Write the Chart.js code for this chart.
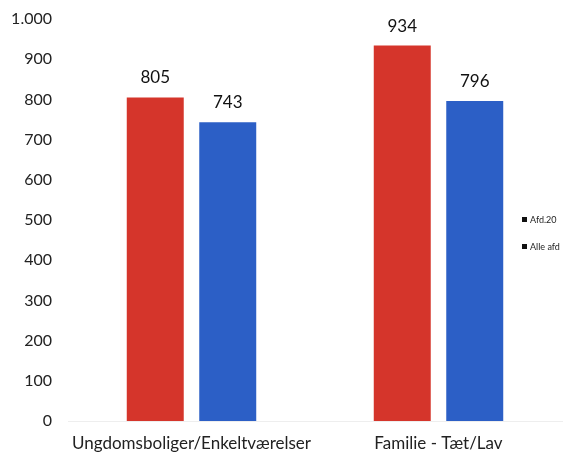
<!DOCTYPE html>
<html>
<head>
<meta charset="utf-8">
<script src="https://cdn.jsdelivr.net/npm/chart.js@4/dist/chart.umd.min.js"></script>
<style>
  html, body { margin: 0; padding: 0; background: #fff; }
  #wrap { width: 566px; height: 452px; }
</style>
</head>
<body>
<div id="wrap"><canvas id="boliger"></canvas></div>
<script>
const categories = ['Ungdomsboliger/Enkeltværelser', 'Familie - Tæt/Lav'];
const afd20 = [805, 934];
const alleAfd = [743, 796];
const seriesNames = ['Afd.20', 'Alle afd'];

const fontFamily = 'Lato, "Open Sans", sans-serif';

// number with danish thousand separator
const fmt = (v) => String(v).replace(/\B(?=(\d{3})+(?!\d))/g, '.');

// value labels above bars
const barLabels = {
  id: 'barLabels',
  afterDatasetsDraw(chart) {
    const ctx = chart.ctx;
    ctx.save();
    ctx.font = '17px ' + fontFamily;
    ctx.fillStyle = '#111';
    ctx.textAlign = 'center';
    ctx.textBaseline = 'bottom';
    chart.data.datasets.forEach((ds, i) => {
      chart.getDatasetMeta(i).data.forEach((bar, j) => {
        ctx.fillText(fmt(ds.data[j]), bar.x, bar.y - 11);
      });
    });
    ctx.restore();
  }
};

// small legend sitting inside the plot on the right
const sideLegend = {
  id: 'sideLegend',
  afterDraw(chart) {
    const ctx = chart.ctx;
    const area = chart.chartArea;
    const mid = (area.top + area.bottom) / 2;
    ctx.save();
    ctx.font = '9px ' + fontFamily;
    ctx.textBaseline = 'middle';
    ctx.textAlign = 'left';
    chart.data.datasets.forEach((ds, i) => {
      const y = mid + i * 27;
      const x = area.right - 40;
      ctx.fillStyle = '#111';
      ctx.fillRect(x, y - 3, 5, 5);
      ctx.fillStyle = '#222';
      ctx.fillText(ds.label, x + 8, y);
    });
    ctx.restore();
  }
};

new Chart(document.getElementById('boliger'), {
  type: 'bar',
  data: {
    labels: categories,
    datasets: [
      { label: seriesNames[0], data: afd20, backgroundColor: '#d5352b' },
      { label: seriesNames[1], data: alleAfd, backgroundColor: '#2c5fc6' }
    ]
  },
  options: {
    responsive: true,
    maintainAspectRatio: false,
    animation: false,
    layout: { padding: { top: 0, right: 4, left: 0, bottom: 0 } },
    plugins: {
      legend: { display: false },
      tooltip: { enabled: false }
    },
    datasets: {
      bar: { categoryPercentage: 0.587, barPercentage: 0.786 }
    },
    scales: {
      x: {
        grid: { display: false, drawTicks: false },
        border: { display: true, color: '#eeeeee' },
        ticks: { color: '#222', font: { family: fontFamily, size: 17 }, padding: 12 },
        afterFit: (scale) => { scale.height = 31; }
      },
      y: {
        min: 0,
        max: 1000,
        grid: { display: false, drawTicks: false },
        border: { display: false },
        ticks: {
          stepSize: 100,
          color: '#222',
          padding: 16,
          font: { family: fontFamily, size: 16 },
          callback: (v) => fmt(v)
        },
        afterFit: (scale) => {
          scale.width = 68;
          scale.paddingTop = 19;
          scale.paddingBottom = 0;
        }
      }
    }
  },
  plugins: [barLabels, sideLegend]
});
</script>
</body>
</html>
